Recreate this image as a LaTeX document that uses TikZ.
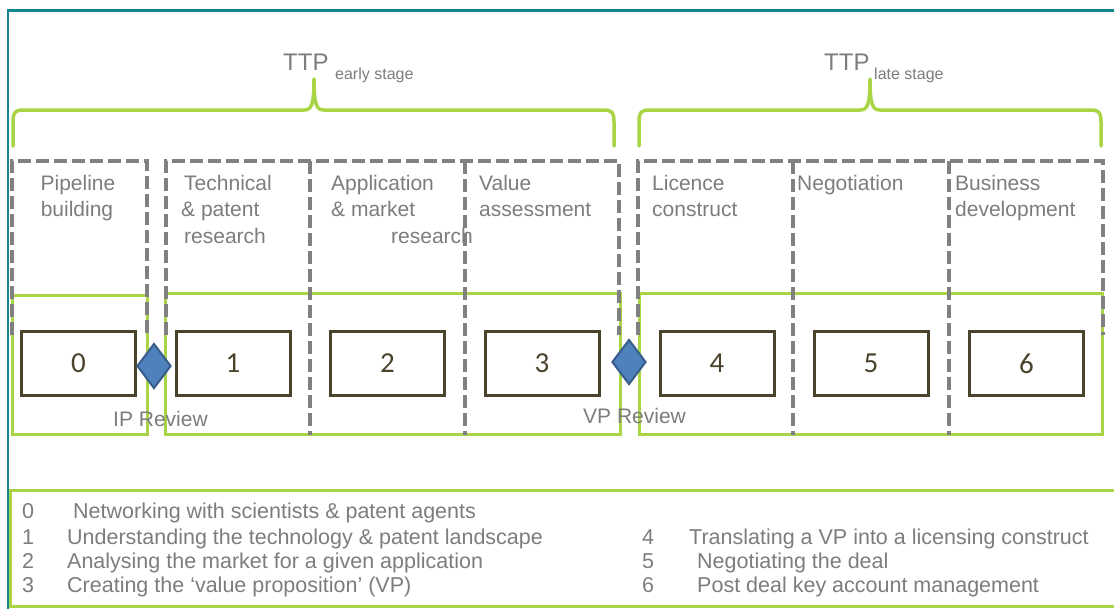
\documentclass[tikz,border=0pt]{standalone}
\usepackage{fontspec}
\setmainfont{Liberation Sans}
\newfontfamily\numfont{Carlito}
\usetikzlibrary{shapes.geometric}
\definecolor{ttpgreen}{RGB}{168,212,70}
\definecolor{frameteal}{RGB}{20,132,142}
\definecolor{dashcol}{RGB}{128,128,128}
\definecolor{txtgray}{RGB}{125,125,125}
\definecolor{boxdark}{RGB}{74,68,44}
\definecolor{diafill}{RGB}{79,129,189}
\definecolor{diaedge}{RGB}{56,93,138}
\begin{document}
\begin{tikzpicture}[x=1pt,y=-1pt,
  lbl/.style={font=\fontsize{21}{25}\selectfont, text=txtgray, inner sep=0pt, anchor=base west},
  lblc/.style={lbl, anchor=base},
  keytxt/.style={lbl, font=\fontsize{21.5}{25}\selectfont},
  ttpbig/.style={font=\fontsize{24}{28}\selectfont, text=txtgray, inner sep=0pt, anchor=base west},
  ttpsmall/.style={font=\fontsize{16}{18}\selectfont, text=txtgray, inner sep=0pt, anchor=base west},
  numbox/.style={draw=boxdark, line width=3pt, fill=white, minimum width=114pt, minimum height=64pt, inner sep=0pt, font=\numfont\fontsize{29}{30}\selectfont, text=boxdark},
  revdiamond/.style={diamond, draw=diaedge, fill=diafill, line width=2pt, minimum width=34pt, minimum height=45pt, inner sep=0pt},
  greenline/.style={draw=ttpgreen, line width=3pt},
  bracestyle/.style={draw=ttpgreen, line width=3.5pt, line cap=round, line join=round},
  dashgray/.style={draw=dashcol, line width=3.5pt, dash pattern=on 13pt off 5pt},
  frameline/.style={draw=frameteal, line width=2.5pt}]
\useasboundingbox (0,0) rectangle (1114,608);
\fill[white] (0,0) rectangle (1114,608);

% teal frame
\draw[frameline] (8,610) -- (8,10.5) -- (1120,10.5);

% braces
\draw[bracestyle] (13,146) -- (13,122) .. controls (13,112) and (15,110) .. (24,110)
  -- (304,110) .. controls (311,110) and (314,106) .. (314,79)
  .. controls (314,106) and (317,110) .. (324,110)
  -- (603,110) .. controls (612,110) and (614,112) .. (614,122) -- (614,146);
\draw[bracestyle] (639,146) -- (639,122) .. controls (639,112) and (641,110) .. (650,110)
  -- (860,110) .. controls (867,110) and (870,106) .. (870,79)
  .. controls (870,106) and (873,110) .. (880,110)
  -- (1090,110) .. controls (1099,110) and (1101,112) .. (1101,122) -- (1101,146);

\node[ttpbig] (ttpe) at (283,70.5) {TTP};
\node[ttpsmall] (ttpes) at (335,79) {early stage};
\node[ttpbig] (ttpl) at (824,70.5) {TTP};
\node[ttpsmall] (ttpls) at (874,79) {late stage};

% green stage boxes
\draw[greenline] (12,295) rectangle (147,434);
\draw[greenline] (165,293) rectangle (620,434);
\draw[greenline] (639,293) rectangle (1102,434);

% dashed activity frames
\draw[dashgray] (12,335) -- (12,161) -- (147,161) -- (147,335);
\draw[dashgray] (166,335) -- (166,161) -- (619,161) -- (619,335);
\draw[dashgray] (310,161) -- (310,435);
\draw[dashgray] (465,161) -- (465,435);
\draw[dashgray] (638,335) -- (638,161) -- (1103,161) -- (1103,335);
\draw[dashgray] (793,161) -- (793,435);
\draw[dashgray] (949,161) -- (949,435);

% activity labels
\node[lblc] (l0a) at (78,190) {Pipeline};
\node[lblc] (l0b) at (77,216.5) {building};
\node[lbl] (l1a) at (184,190) {Technical};
\node[lbl] (l1b) at (181,216.5) {\& patent};
\node[lbl] (l1c) at (184,243) {research};
\node[lbl] (l2a) at (331,190) {Application};
\node[lbl] (l2b) at (331,216.5) {\& market};
\node[lbl] (l2c) at (391,243) {research};
\node[lbl] (l3a) at (479,190) {Value};
\node[lbl] (l3b) at (479,216.5) {assessment};
\node[lbl] (l4a) at (652,190) {Licence};
\node[lbl] (l4b) at (652,216.5) {construct};
\node[lbl] (l5a) at (797,190) {Negotiation};
\node[lbl] (l6a) at (955,190) {Business};
\node[lbl] (l6b) at (955,216.5) {development};

% numbered boxes
\node[numbox] (n0) at (78.5,363.5) {0};
\node[numbox] (n1) at (233,363.5) {1};
\node[numbox] (n2) at (387.5,363.5) {2};
\node[numbox] (n3) at (542,363.5) {3};
\node[numbox] (n4) at (717,363.5) {4};
\node[numbox] (n5) at (871,363.5) {5};
\node[numbox] (n6) at (1026.5,363.5) {6};

% review diamonds
\node[revdiamond] (ip) at (154,366) {};
\node[revdiamond] (vp) at (629,362) {};
\node[lbl] (iplbl) at (113,426) {IP Review};
\node[lbl] (vplbl) at (583,423) {VP Review};

% legend
\draw[greenline] (1120,490) -- (10.5,490) -- (10.5,606) -- (1120,606);
\node[keytxt] (k0) at (22,518) {0};
\node[keytxt] (t0) at (73,518) {Networking with scientists \& patent agents};
\node[keytxt] (k1) at (22,544) {1};
\node[keytxt] (t1) at (67,544) {Understanding the technology \& patent landscape};
\node[keytxt] (k2) at (22,568) {2};
\node[keytxt] (t2) at (67,568) {Analysing the market for a given application};
\node[keytxt] (k3) at (22,592) {3};
\node[keytxt] (t3) at (67,592) {Creating the ‘value proposition’ (VP)};
\node[keytxt] (k4) at (642,544) {4};
\node[keytxt] (t4) at (689,544) {Translating a VP into a licensing construct};
\node[keytxt] (k5) at (642,568) {5};
\node[keytxt] (t5) at (697,568) {Negotiating the deal};
\node[keytxt] (k6) at (642,592) {6};
\node[keytxt] (t6) at (697,592) {Post deal key account management};
\end{tikzpicture}
\end{document}
